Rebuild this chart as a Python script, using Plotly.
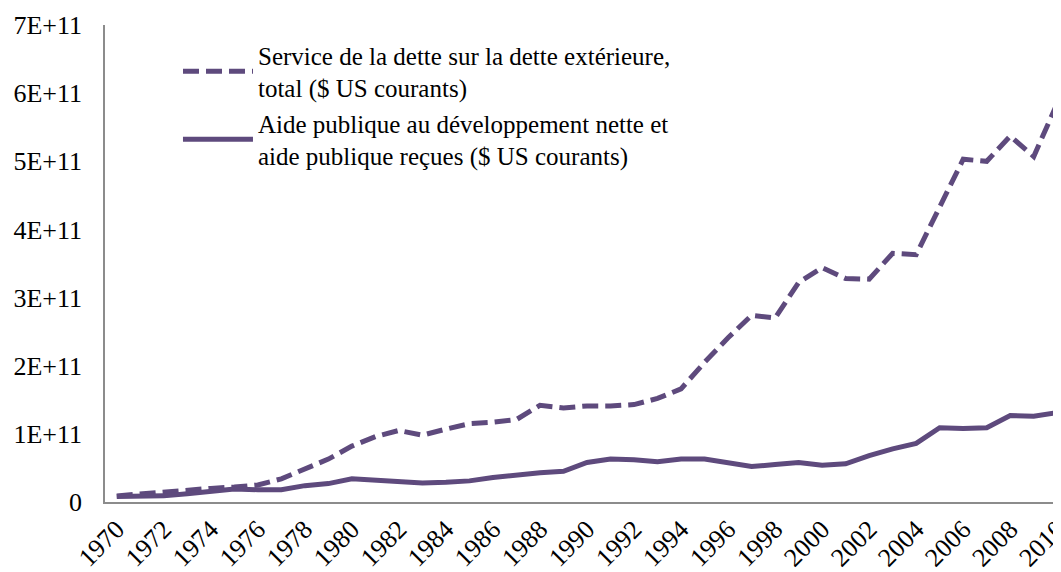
import plotly.graph_objects as go

# valeurs, en milliards de $ US courants
annees = list(range(1970, 2011))
service_dette = [9, 12, 14, 18, 20, 22, 25, 34, 49, 63,
                 82, 96, 105, 98, 107, 115, 117, 121, 142, 138,
                 141, 141, 143, 152, 166, 205, 241, 274, 270, 322,
                 344, 328, 327, 365, 363, 435, 503, 500, 537, 507, 585]
aide_publique = [8, 8, 9, 12, 15, 19, 18, 18, 24, 27,
                 34, 32, 30, 28, 29, 31, 36, 40, 43, 45,
                 58, 63, 62, 59, 63, 63, 57, 52, 55, 58,
                 54, 56, 68, 78, 86, 109, 108, 109, 127, 126, 131]

y_ticks = [0, 1e11, 2e11, 3e11, 4e11, 5e11, 6e11, 7e11]
y_labels = ["0", "1E+11", "2E+11", "3E+11", "4E+11", "5E+11", "6E+11", "7E+11"]

noms = ["Service de la dette sur la dette extérieure,<br>total ($ US courants)",
        "Aide publique au développement nette et<br>aide publique reçues ($ US courants)"]

couleur = "#5E4A7D"
police = "Liberation Serif, Times New Roman, serif"

fig = go.Figure()
fig.add_trace(go.Scatter(
    x=annees, y=[v * 1e9 for v in service_dette], name=noms[0], mode="lines",
    line=dict(color=couleur, width=5, dash="16px,7px"),
))
fig.add_trace(go.Scatter(
    x=annees, y=[v * 1e9 for v in aide_publique], name=noms[1], mode="lines",
    line=dict(color=couleur, width=5),
))

# la page a une marge de 8 px : le graphique est décalé d'autant
fig.update_layout(
    width=1061, height=572,
    margin=dict(l=97, r=0, t=17, b=78),
    paper_bgcolor="white", plot_bgcolor="white",
    font=dict(family=police, size=26, color="black"),
    showlegend=True,
    legend=dict(
        x=0.0757, y=0.985, xanchor="left", yanchor="top",
        bgcolor="rgba(0,0,0,0)", itemwidth=70,
        font=dict(family=police, size=25), tracegroupgap=0,
    ),
)
fig.update_xaxes(
    range=[1969.5, 2010.5], tick0=1970, dtick=2, tickangle=-45,
    showgrid=False, zeroline=False, automargin=False,
    showline=True, linecolor="#8c8c8c", linewidth=1.5,
    ticks="", ticklabelstandoff=0, ticklabeloverflow="allow",
)
fig.update_yaxes(
    range=[0, 7e11], tickvals=y_ticks, ticktext=y_labels,
    showgrid=False, zeroline=False, automargin=False,
    showline=True, linecolor="#8c8c8c", linewidth=1.5,
    ticks="", ticklabelstandoff=16,
)

fig.write_html("out.html")
